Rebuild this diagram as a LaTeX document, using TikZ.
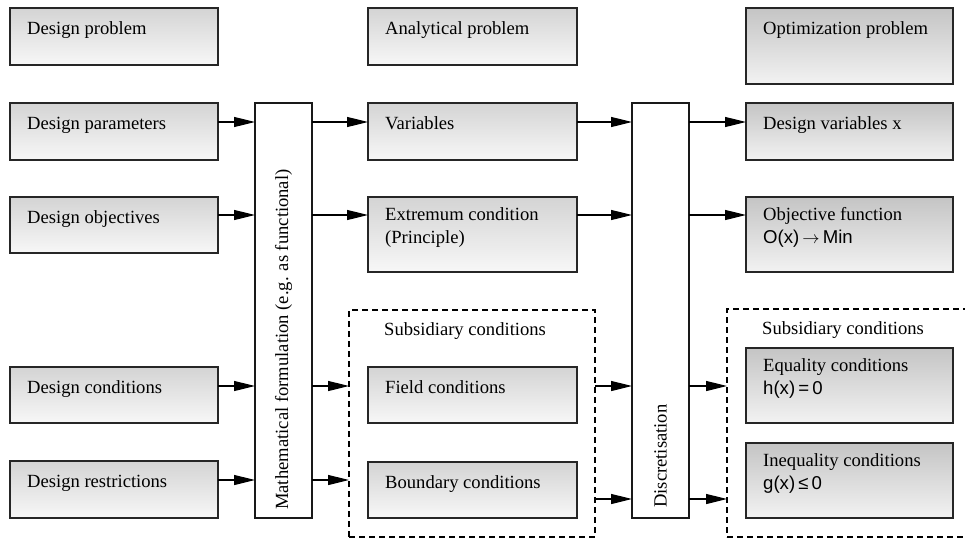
\documentclass[tikz,border=0pt]{standalone}
\usepackage{fontspec}
\setmainfont{Liberation Serif}
\newfontfamily\formulafont{Liberation Sans}
\usetikzlibrary{arrows.meta}

\begin{document}
\begin{tikzpicture}[x=1pt,y=-1pt,
  font=\fontsize{18.6}{23}\selectfont,
  box/.style={draw=black!85, line width=1.3pt, top color=black!17, bottom color=black!3,
    anchor=north west, inner sep=0pt, outer sep=0pt},
  optbox/.style={box, top color=black!23, bottom color=black!5},
  colbox/.style={draw=black!90, line width=1.3pt, fill=white, anchor=north west,
    inner sep=0pt, outer sep=0pt, minimum width=57pt, minimum height=415pt},
  group/.style={draw=black, line width=1.3pt, dash pattern=on 6pt off 4pt,
    anchor=north west, inner sep=0pt, outer sep=0pt},
  txt/.style={anchor=north west, inner sep=0pt, align=left, xshift=17pt, yshift=-10pt,
    execute at begin node=\strut},
  grouptxt/.style={txt, xshift=18pt, yshift=1pt},
  arr/.style={line width=1.2pt, -{Triangle[length=21pt,width=10pt]}},
]
\useasboundingbox (0,0) rectangle (965,538);
\clip (0,0) rectangle (965,538);

% rows at which the connectors run
\coordinate (r1) at (0,122);
\coordinate (r2) at (0,215);
\coordinate (r3) at (0,386);
\coordinate (r4) at (0,480);
\coordinate (r5) at (0,499);

% design problem column
\node[box, minimum width=208pt, minimum height=57pt, label={[txt]north west:Design problem}] (dprob) at (10,8) {};
\node[box, minimum width=208pt, minimum height=57pt, label={[txt]north west:Design parameters}] (dpar) at (10,103) {};
\node[box, minimum width=208pt, minimum height=56pt, label={[txt]north west:Design objectives}] (dobj) at (10,197) {};
\node[box, minimum width=208pt, minimum height=56pt, label={[txt]north west:Design conditions}] (dcond) at (10,367) {};
\node[box, minimum width=208pt, minimum height=57pt, label={[txt]north west:Design restrictions}] (drest) at (10,461) {};

% mathematical formulation
\node[colbox] (math) at (255,103) {};
\node[rotate=90, anchor=west, inner sep=0pt] (mathtext) at ([yshift=8pt]math.south)
  {Mathematical formulation (e.g. as functional)};

% analytical problem column
\node[group, minimum width=246pt, minimum height=227pt,
  label={[grouptxt]north west:Subsidiary conditions}] (sub1) at (349,310) {};
\node[box, minimum width=209pt, minimum height=57pt, label={[txt]north west:Analytical problem}] (aprob) at (368,8) {};
\node[box, minimum width=209pt, minimum height=57pt, label={[txt]north west:Variables}] (vars) at (368,103) {};
\node[box, minimum width=209pt, minimum height=75pt, label={[txt]north west:Extremum condition\\(Principle)}] (extr) at (368,197) {};
\node[box, minimum width=209pt, minimum height=56pt, label={[txt]north west:Field conditions}] (field) at (368,367) {};
\node[box, minimum width=209pt, minimum height=56pt, label={[txt]north west:Boundary conditions}] (bound) at (368,462) {};

% discretisation
\node[colbox] (disc) at (632,103) {};
\node[rotate=90, anchor=west, inner sep=0pt] (disctext) at ([yshift=10pt]disc.south) {Discretisation};

% optimization problem column
\node[group, minimum width=262pt, minimum height=228pt,
  label={[grouptxt]north west:Subsidiary conditions}] (sub2) at (727,309) {};
\node[optbox, minimum width=207pt, minimum height=76pt, label={[txt]north west:Optimization problem}] (oprob) at (746,8) {};
\node[optbox, minimum width=207pt, minimum height=57pt, label={[txt]north west:Design variables x}] (dvars) at (746,103) {};
\node[optbox, minimum width=207pt, minimum height=75pt,
  label={[txt]north west:Objective function\\{\formulafont O(x)\,$\rightarrow$\,Min}}] (obj) at (746,197) {};
\node[optbox, minimum width=207pt, minimum height=75pt,
  label={[txt]north west:Equality conditions\\{\formulafont h(x)\,=\,0}}] (eq) at (746,348) {};
\node[optbox, minimum width=207pt, minimum height=75pt,
  label={[txt]north west:Inequality conditions\\{\formulafont g(x)\,≤\,0}}] (ineq) at (746,443) {};

% connectors
\draw[arr] (dpar.east |- r1) -- (math.west |- r1);
\draw[arr] (dobj.east |- r2) -- (math.west |- r2);
\draw[arr] (dcond.east |- r3) -- (math.west |- r3);
\draw[arr] (drest.east |- r4) -- (math.west |- r4);

\draw[arr] (math.east |- r1) -- (vars.west |- r1);
\draw[arr] (math.east |- r2) -- (extr.west |- r2);
\draw[arr] (math.east |- r3) -- (sub1.west |- r3);
\draw[arr] (math.east |- r4) -- (sub1.west |- r4);

\draw[arr] (vars.east |- r1) -- (disc.west |- r1);
\draw[arr] (extr.east |- r2) -- (disc.west |- r2);
\draw[arr] (sub1.east |- r3) -- (disc.west |- r3);
\draw[arr] (sub1.east |- r5) -- (disc.west |- r5);

\draw[arr] (disc.east |- r1) -- (dvars.west |- r1);
\draw[arr] (disc.east |- r2) -- (obj.west |- r2);
\draw[arr] (disc.east |- r3) -- (sub2.west |- r3);
\draw[arr] (disc.east |- r5) -- (sub2.west |- r5);
\end{tikzpicture}
\end{document}
